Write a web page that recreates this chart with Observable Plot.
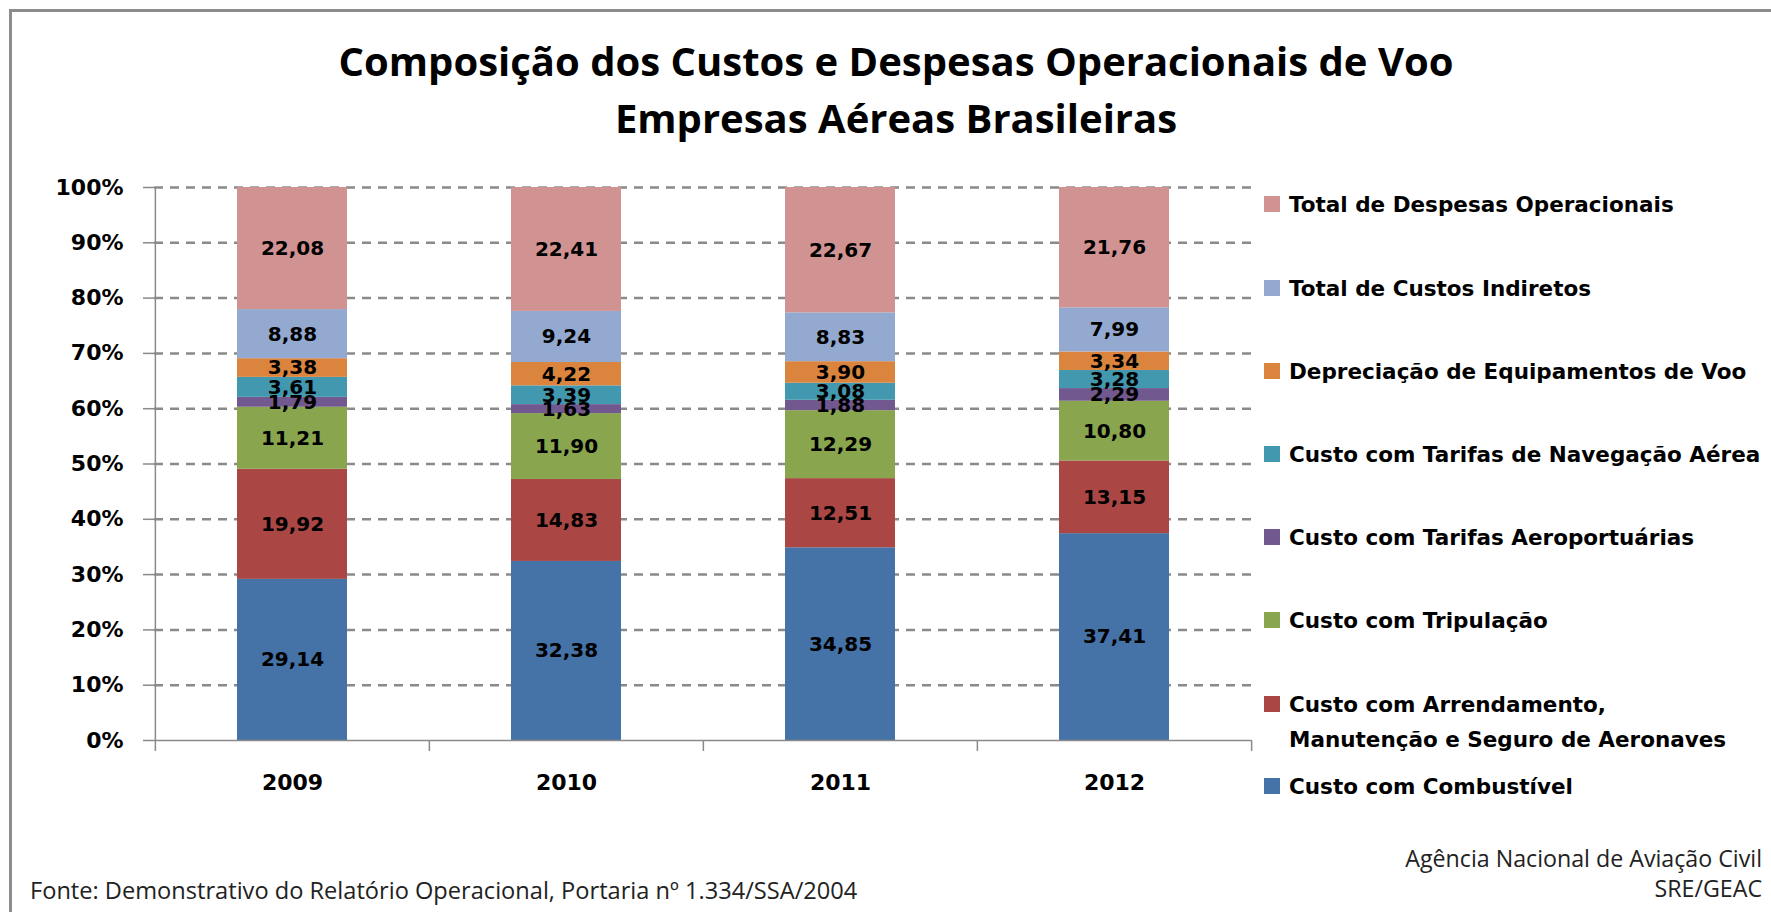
<!DOCTYPE html>
<html><head><meta charset="utf-8">
<script src="https://cdn.jsdelivr.net/npm/d3@7"></script>
<script src="https://cdn.jsdelivr.net/npm/@observablehq/plot@0.6"></script>
<style>
html,body{margin:0;padding:0;background:#fff;}
#page{position:relative;width:1771px;height:912px;overflow:hidden;background:#fff;}
#frame{position:absolute;left:9px;top:9px;width:1800px;height:1000px;border-top:3px solid #8c8c8c;border-left:3px solid #8c8c8c;}
#chart{position:absolute;left:0;top:0;}
#overlay{position:absolute;left:0;top:0;}
</style></head>
<body><div id="page"><div id="frame"></div><div id="chart"></div>
<svg id="overlay" width="1771" height="912"></svg></div>
<script>
// ---- data ----
const years = ["2009", "2010", "2011", "2012"];
const series = [
  "Custo com Combustível",
  "Custo com Arrendamento, Manutenção e Seguro de Aeronaves",
  "Custo com Tripulação",
  "Custo com Tarifas Aeroportuárias",
  "Custo com Tarifas de Navegação Aérea",
  "Depreciação de Equipamentos de Voo",
  "Total de Custos Indiretos",
  "Total de Despesas Operacionais"
];
const legendLines = [
  ["Custo com Combustível"],
  ["Custo com Arrendamento,", "Manutenção e Seguro de Aeronaves"],
  ["Custo com Tripulação"],
  ["Custo com Tarifas Aeroportuárias"],
  ["Custo com Tarifas de Navegação Aérea"],
  ["Depreciação de Equipamentos de Voo"],
  ["Total de Custos Indiretos"],
  ["Total de Despesas Operacionais"]
];
const combustivel  = [29.14, 32.38, 34.85, 37.41];
const arrendamento = [19.92, 14.83, 12.51, 13.15];
const tripulacao   = [11.21, 11.90, 12.29, 10.80];
const tarifasAero  = [1.79, 1.63, 1.88, 2.29];
const tarifasNav   = [3.61, 3.39, 3.08, 3.28];
const depreciacao  = [3.38, 4.22, 3.90, 3.34];
const indiretos    = [8.88, 9.24, 8.83, 7.99];
const despesas     = [22.08, 22.41, 22.67, 21.76];
const colors = ["#4572A7", "#AA4643", "#89A54E", "#71588F", "#4198AF", "#DB843D", "#93A9CF", "#D19392"];
const yTicks = [0, 0.1, 0.2, 0.3, 0.4, 0.5, 0.6, 0.7, 0.8, 0.9, 1];
const titleLines = ["Composição dos Custos e Despesas Operacionais de Voo", "Empresas Aéreas Brasileiras"];
const sourceText = "Fonte: Demonstrativo do Relatório Operacional, Portaria nº 1.334/SSA/2004";
const creditLines = ["Agência Nacional de Aviação Civil", "SRE/GEAC"];

const valuesBySeries = [combustivel, arrendamento, tripulacao, tarifasAero, tarifasNav, depreciacao, indiretos, despesas];
const table = [];
series.forEach((s, si) => years.forEach((y, yi) => table.push({year: y, series: s, value: valuesBySeries[si][yi]})));
const fmt = v => v.toFixed(2).replace(".", ",");

// ---- layout ----
const W = 1771, H = 912, mL = 154, mR = 520, mT = 187, mB = 172;
const plotW = W - mL - mR, plotH = H - mT - mB;
const step = plotW / years.length;
const grey = "#8a8a8a";
const stackOpts = {offset: "normalize", order: series, x: "year", y: "value", z: "series"};

const chart = Plot.plot({
  width: W, height: H,
  marginLeft: mL, marginRight: mR, marginTop: mT, marginBottom: mB,
  style: {fontFamily: "DejaVu Sans", fontWeight: "bold", color: "black", background: "transparent"},
  x: {domain: years, paddingInner: 0.6, paddingOuter: 0.3, label: null},
  y: {domain: [0, 1], label: null},
  color: {domain: series, range: colors},
  marks: [
    Plot.gridY(yTicks.filter(t => t > 0), {stroke: grey, strokeOpacity: 1, strokeWidth: 2.5, strokeDasharray: "9,7"}),
    Plot.barY(table, Plot.stackY({...stackOpts, fill: "series"})),
    Plot.text(table, Plot.stackY({...stackOpts, text: d => fmt(d.value), fill: "black", fontSize: 20, fontWeight: "bold"})),
    Plot.ruleY([0], {stroke: grey, strokeWidth: 1.5}),
    // left axis line (full height, with tick below)
    Plot.ruleX([years[0]], {x: d => d, dx: -step / 2, insetBottom: -11, stroke: grey, strokeWidth: 1.5}),
    // category boundary ticks below the baseline
    Plot.ruleX(years.slice(1), {x: d => d, dx: -step / 2, insetTop: plotH, insetBottom: -11, stroke: grey, strokeWidth: 1.5}),
    Plot.ruleX([years[years.length - 1]], {x: d => d, dx: step / 2, insetTop: plotH, insetBottom: -11, stroke: grey, strokeWidth: 1.5}),
    Plot.axisY(yTicks, {tickSize: 11, tickPadding: 20, stroke: grey, strokeWidth: 1.5, fill: "black", fontSize: 22, fontWeight: "bold", tickFormat: d => Math.round(d * 100) + "%", label: null}),
    Plot.axisX({tickSize: 0, tickPadding: 34, fill: "black", fontSize: 22, fontWeight: "bold", label: null})
  ]
});
document.getElementById("chart").appendChild(chart);

// ---- overlay texts (title, legend, footer) ----
const ov = d3.select("#overlay");
function fitText(sel, target) {
  const len = sel.node().getComputedTextLength();
  const fs = parseFloat(sel.attr("font-size"));
  sel.attr("font-size", fs * target / len);
  return fs * target / len;
}
const t1 = ov.append("text").attr("x", 896).attr("y", 76).attr("text-anchor", "middle")
  .attr("font-family", "Open Sans").attr("font-weight", "bold").attr("font-size", 36).text(titleLines[0]);
const tfs = fitText(t1, 1115);
ov.append("text").attr("x", 896).attr("y", 133).attr("text-anchor", "middle")
  .attr("font-family", "Open Sans").attr("font-weight", "bold").attr("font-size", tfs).text(titleLines[1]);

// legend (top to bottom = reverse stacking order)
const legendCenters = [786, 704, 620, 537, 454, 371, 288, 204];
series.forEach((s, i) => {
  const cy = legendCenters[i];
  ov.append("rect").attr("x", 1264).attr("y", cy - 8).attr("width", 16).attr("height", 16).attr("fill", colors[i]);
  legendLines[i].forEach((line, li) => {
    ov.append("text").attr("x", 1289).attr("y", cy + li * 35).attr("dy", "0.36em")
      .attr("font-family", "DejaVu Sans").attr("font-weight", "bold").attr("font-size", 21.5)
      .attr("fill", "black").text(line);
  });
});

const src = ov.append("text").attr("x", 30).attr("y", 899)
  .attr("font-family", "Open Sans").attr("font-size", 20).attr("fill", "#222").text(sourceText);
fitText(src, 828);
const c1 = ov.append("text").attr("x", 1762).attr("y", 867).attr("text-anchor", "end")
  .attr("font-family", "Open Sans").attr("font-size", 20).attr("fill", "#222").text(creditLines[0]);
const cfs = fitText(c1, 357);
ov.append("text").attr("x", 1762).attr("y", 897).attr("text-anchor", "end")
  .attr("font-family", "Open Sans").attr("font-size", cfs).attr("fill", "#222").text(creditLines[1]);
</script>
</body></html>
